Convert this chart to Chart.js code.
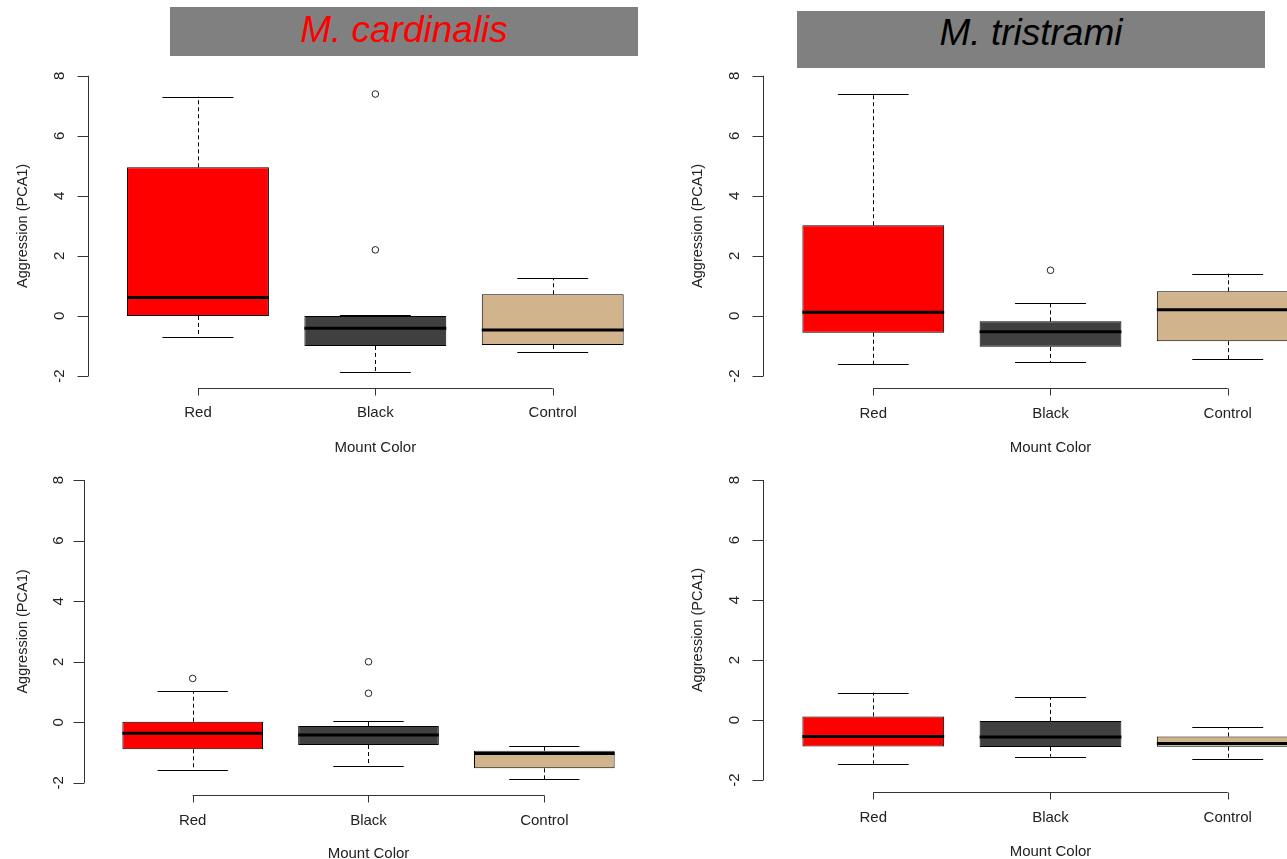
<!DOCTYPE html>
<html>
<head>
<meta charset="utf-8">
<script src="https://cdn.jsdelivr.net/npm/chart.js@4/dist/chart.umd.min.js"></script>
<style>
  html, body { margin: 0; padding: 0; width: 1287px; height: 859px; overflow: hidden; background: #fff; }
  body { position: relative; font-family: "Liberation Sans", Arial, sans-serif; }
  canvas { position: absolute; }
  .banner { position: absolute; z-index: 2; background: #808080; text-align: center;
            font-style: italic; font-size: 37px; white-space: nowrap; }
</style>
</head>
<body>
<div class="banner" style="left:170px; top:7px; width:468px; height:49px; line-height:45px; color:#ff0000;">M. cardinalis</div>
<div class="banner" style="left:797px; top:11px; width:468px; height:57px; line-height:44px; color:#000;">M. tristrami</div>

<script>
// Mount colours shown to the birds
const categories = ['Red', 'Black', 'Control'];
const yTicks = [-2, 0, 2, 4, 6, 8];
const yTitle = 'Aggression (PCA1)';
const xTitle = 'Mount Color';

// Box summaries per mount colour: [lower whisker, Q1, median, Q3, upper whisker]
const cardinalisTopStats = [
  [-0.69, 0.00, 0.61, 4.95, 7.30],
  [-1.88, -1.00, -0.41, 0.00, 0.02],
  [-1.19, -0.97, -0.47, 0.72, 1.26]
];
const cardinalisTopOutliers = [[], [7.39, 2.20], []];

const tristramiTopStats = [
  [-1.61, -0.56, 0.12, 3.02, 7.39],
  [-1.55, -1.03, -0.53, -0.18, 0.43],
  [-1.44, -0.84, 0.21, 0.82, 1.41]
];
const tristramiTopOutliers = [[], [1.52], []];

const cardinalisBottomStats = [
  [-1.58, -0.89, -0.36, 0.02, 1.03],
  [-1.44, -0.75, -0.42, -0.12, 0.05],
  [-1.88, -1.52, -1.03, -0.94, -0.78]
];
const cardinalisBottomOutliers = [[1.45], [2.00, 0.96], []];

const tristramiBottomStats = [
  [-1.46, -0.88, -0.55, 0.12, 0.91],
  [-1.22, -0.90, -0.57, -0.03, 0.76],
  [-1.30, -0.89, -0.78, -0.55, -0.24]
];
const tristramiBottomOutliers = [[], [], []];

// Fill colours of the boxes, one per mount colour
const boxFills = ['#ff0000', '#404040', '#d2b48c'];

// Plot frames on the page (canvas box and inner plotting region)
const panels = [
  { stats: cardinalisTopStats, outliers: cardinalisTopOutliers,
    box: { x: 0, y: 58, w: 680, h: 402 }, plot: { x0: 88, x1: 662.7, y0: 63.7, y1: 388 },
    tickLabelOff: 29.5, titleOff: 65.5, catOff: 25, xTitleOff: 60 },
  { stats: tristramiTopStats, outliers: tristramiTopOutliers,
    box: { x: 680, y: 58, w: 700, h: 402 }, plot: { x0: 763.4, x1: 1337.6, y0: 63.7, y1: 388 },
    tickLabelOff: 29.5, titleOff: 65.5, catOff: 26, xTitleOff: 60 },
  { stats: cardinalisBottomStats, outliers: cardinalisBottomOutliers,
    box: { x: 0, y: 460, w: 680, h: 399 }, plot: { x0: 83.7, x1: 653.3, y0: 468, y1: 795 },
    tickLabelOff: 25.5, titleOff: 60.5, catOff: 26, xTitleOff: 59 },
  { stats: tristramiBottomStats, outliers: tristramiBottomOutliers,
    box: { x: 680, y: 460, w: 700, h: 399 }, plot: { x0: 763.4, x1: 1337.6, y0: 468, y1: 792 },
    tickLabelOff: 29.5, titleOff: 65.5, catOff: 26, xTitleOff: 60 }
];

const FONT = '"Liberation Sans", Arial, sans-serif';
const INK = '#222';

// Whiskers, medians and R-style axes, all placed through the chart's scales
function rBoxPlugin(panel) {
  const crisp = v => Math.round(v) + 0.5;
  return {
    id: 'rBox',
    beforeDatasetsDraw(chart) {
      const ctx = chart.ctx, ys = chart.scales.y;
      const bars = chart.getDatasetMeta(0).data;
      ctx.save();
      ctx.strokeStyle = '#000';
      ctx.lineWidth = 1;
      bars.forEach((bar, i) => {
        const s = panel.stats[i];
        const x = crisp(bar.x), half = bar.width / 4;
        const pLo = ys.getPixelForValue(s[0]), pQ1 = ys.getPixelForValue(s[1]);
        const pQ3 = ys.getPixelForValue(s[3]), pHi = ys.getPixelForValue(s[4]);
        ctx.setLineDash([4, 3]);
        ctx.beginPath();
        ctx.moveTo(x, pQ3); ctx.lineTo(x, pHi);
        ctx.moveTo(x, pQ1); ctx.lineTo(x, pLo);
        ctx.stroke();
        ctx.setLineDash([]);
        ctx.beginPath();
        ctx.moveTo(bar.x - half, crisp(pHi)); ctx.lineTo(bar.x + half, crisp(pHi));
        ctx.moveTo(bar.x - half, crisp(pLo)); ctx.lineTo(bar.x + half, crisp(pLo));
        ctx.stroke();
      });
      ctx.restore();
    },
    afterDatasetsDraw(chart) {
      const ctx = chart.ctx, ys = chart.scales.y;
      const bars = chart.getDatasetMeta(0).data;
      ctx.save();
      ctx.strokeStyle = '#000';
      ctx.lineWidth = 3;
      bars.forEach((bar, i) => {
        const pMed = ys.getPixelForValue(panel.stats[i][2]);
        ctx.beginPath();
        ctx.moveTo(bar.x - bar.width / 2, pMed);
        ctx.lineTo(bar.x + bar.width / 2, pMed);
        ctx.stroke();
      });
      ctx.restore();
    },
    afterDraw(chart) {
      const ctx = chart.ctx, xs = chart.scales.x, ys = chart.scales.y;
      const area = chart.chartArea;
      const left = crisp(area.left), bottom = crisp(area.bottom);
      ctx.save();
      ctx.strokeStyle = '#333';
      ctx.lineWidth = 1;
      // y axis
      ctx.beginPath();
      ctx.moveTo(left, ys.getPixelForValue(yTicks[0]));
      ctx.lineTo(left, ys.getPixelForValue(yTicks[yTicks.length - 1]));
      yTicks.forEach(v => {
        const p = crisp(ys.getPixelForValue(v));
        ctx.moveTo(left - 11, p); ctx.lineTo(left, p);
      });
      // x axis
      ctx.moveTo(xs.getPixelForValue(1), bottom);
      ctx.lineTo(xs.getPixelForValue(categories.length), bottom);
      categories.forEach((c, i) => {
        const p = crisp(xs.getPixelForValue(i + 1));
        ctx.moveTo(p, bottom); ctx.lineTo(p, bottom + 7);
      });
      ctx.stroke();

      ctx.fillStyle = INK;
      ctx.textAlign = 'center';
      ctx.textBaseline = 'middle';
      ctx.font = '15px ' + FONT;
      yTicks.forEach(v => {
        ctx.save();
        ctx.translate(area.left - panel.tickLabelOff, ys.getPixelForValue(v));
        ctx.rotate(-Math.PI / 2);
        ctx.fillText(String(v), 0, 1);
        ctx.restore();
      });
      categories.forEach((c, i) => {
        ctx.fillText(c, xs.getPixelForValue(i + 1), area.bottom + panel.catOff);
      });
      ctx.fillText(xTitle, xs.getPixelForValue(2), area.bottom + panel.xTitleOff);
      ctx.font = '14.5px ' + FONT;
      ctx.save();
      ctx.translate(area.left - panel.titleOff, ys.getPixelForValue(3));
      ctx.rotate(-Math.PI / 2);
      ctx.fillText(yTitle, 0, 0);
      ctx.restore();
      ctx.restore();
    }
  };
}

panels.forEach(panel => {
  const canvas = document.createElement('canvas');
  canvas.width = panel.box.w;
  canvas.height = panel.box.h;
  canvas.style.left = panel.box.x + 'px';
  canvas.style.top = panel.box.y + 'px';
  canvas.style.width = panel.box.w + 'px';
  canvas.style.height = panel.box.h + 'px';
  document.body.appendChild(canvas);

  const padding = {
    left: panel.plot.x0 - panel.box.x,
    top: panel.plot.y0 - panel.box.y,
    right: panel.box.x + panel.box.w - panel.plot.x1,
    bottom: panel.box.y + panel.box.h - panel.plot.y1
  };

  new Chart(canvas, {
    type: 'bar',
    data: {
      datasets: [
        {
          type: 'bar',
          data: panel.stats.map((s, i) => ({ x: i + 1, y: [s[1], s[3]] })),
          backgroundColor: boxFills,
          borderColor: '#000',
          borderWidth: 1,
          borderSkipped: false,
          barPercentage: 0.8,
          categoryPercentage: 1
        },
        {
          type: 'scatter',
          data: panel.outliers.flatMap((vals, i) => vals.map(v => ({ x: i + 1, y: v }))),
          pointStyle: 'circle',
          pointRadius: 3.3,
          borderColor: '#222',
          backgroundColor: 'rgba(0,0,0,0)',
          borderWidth: 1
        }
      ]
    },
    options: {
      responsive: false,
      animation: false,
      devicePixelRatio: 1,
      layout: { padding },
      plugins: { legend: { display: false }, tooltip: { enabled: false } },
      scales: {
        x: { type: 'linear', min: 0.38, max: 3.62, offset: false, display: false,
             ticks: { stepSize: 1, includeBounds: false } },
        y: { type: 'linear', min: -2.4, max: 8.4, display: false, beginAtZero: false,
             ticks: { includeBounds: false } }
      }
    },
    plugins: [rBoxPlugin(panel)]
  });
});
</script>
</body>
</html>
